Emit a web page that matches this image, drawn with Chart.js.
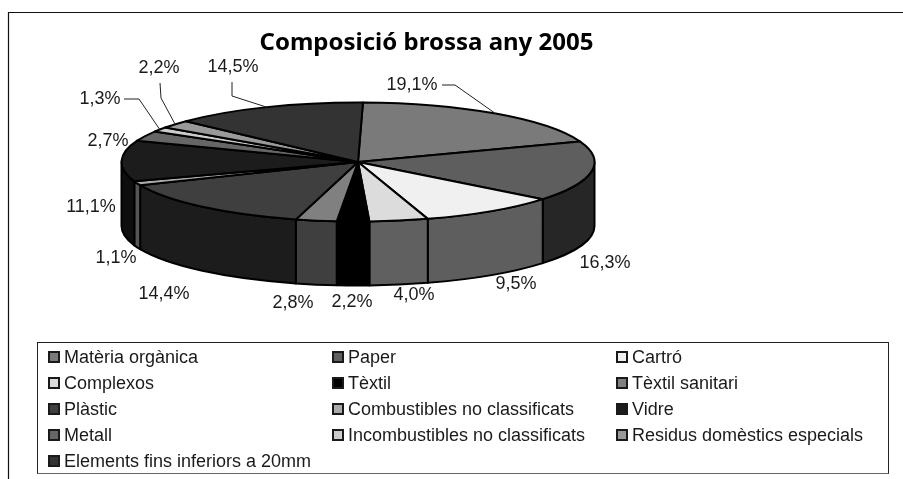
<!DOCTYPE html>
<html>
<head>
<meta charset="utf-8">
<title>Composició brossa any 2005</title>
<script src="https://cdn.jsdelivr.net/npm/chart.js@4"></script>
<style>
    html, body { margin: 0; padding: 0; background: #fff; overflow: hidden; }
    #wrap { position: relative; width: 903px; height: 479px; }
    #pieChart { position: absolute; left: 0; top: 0; }
    #legend {
        position: absolute; left: 37px; top: 342px; width: 852px; height: 132px;
        box-sizing: border-box; border: 1px solid #222; border-bottom-color: #666;
        display: grid; grid-template-columns: repeat(3, 284px); grid-auto-rows: 26px;
        padding: 1px 0 0 10px;
        font: 18px "Liberation Sans", Arial, sans-serif; color: #1a1a1a;
    }
    #legend div { display: flex; align-items: center; white-space: nowrap; }
    #legend i {
        display: block; width: 12px; height: 12px; margin-right: 4px;
        box-sizing: border-box; border: 2px solid #1a1a1a;
    }
</style>
</head>
<body>
<div id="wrap">
    <canvas id="pieChart" width="903" height="479"></canvas>
    <div id="legend"></div>
</div>
<script>
// Dades
const categories = ['Matèria orgànica', 'Paper', 'Cartró', 'Complexos', 'Tèxtil', 'Tèxtil sanitari',
    'Plàstic', 'Combustibles no classificats', 'Vidre', 'Metall', 'Incombustibles no classificats',
    'Residus domèstics especials', 'Elements fins inferiors a 20mm'];
const values = [19.1, 16.3, 9.5, 4.0, 2.2, 2.8, 14.4, 1.1, 11.1, 2.7, 1.3, 2.2, 14.5];

// Colors: cara superior i paret lateral
const topColors = ['#7a7a7a', '#5e5e5e', '#f0f0f0', '#dcdcdc', '#000000', '#808080', '#3f3f3f',
    '#aaaaaa', '#1c1c1c', '#666666', '#cccccc', '#999999', '#333333'];
const sideColors = ['#3d3d3d', '#262626', '#5e5e5e', '#606060', '#000000', '#3f3f3f', '#1c1c1c',
    '#555555', '#0e0e0e', '#333333', '#666666', '#4c4c4c', '#1a1a1a'];

// Posició del text de cada etiqueta i colze de la línia guia (si en té)
const labelPos = [[412, 85], [605, 263], [516, 284], [414, 295], [352, 302], [293, 303], [164, 294],
    [116, 258], [91, 207], [108, 141], [100, 99], [159, 68], [233, 67]];
const leaders = {
    0: [[442, 85], [455, 85]],
    10: [[124, 99], [139, 99]],
    11: [[160, 83], [161, 98]],
    12: [[232, 82], [232, 96]]
};

// Geometria de la "pastís" 3D
const pie = { cx: 358, cy: 162, rx: 236.5, ry: 59.5, depth: 64 };

// Els percentatges del gràfic sumen 101,2: cada punt val 3,6 graus i l'últim sector es talla
const totalPercent = values.reduce((a, b) => a + b, 0);

function fmt(v) {
    return v.toFixed(1).replace('.', ',') + '%';
}

const pie3d = {
    id: 'pie3d',
    beforeDraw(chart) {
        // marc exterior
        const ctx = chart.ctx;
        ctx.save();
        ctx.strokeStyle = '#111';
        ctx.lineWidth = 1.2;
        ctx.beginPath();
        ctx.moveTo(8.5, 479);
        ctx.lineTo(8.5, 12.5);
        ctx.lineTo(903, 12.5);
        ctx.stroke();
        ctx.restore();
    },
    beforeDatasetsDraw(chart) {
        const ctx = chart.ctx;
        const arcs = chart.getDatasetMeta(0).data;
        const limit = arcs[0].startAngle + Math.PI * 2;
        ctx.save();
        ctx.lineWidth = 2;
        ctx.strokeStyle = '#000';
        ctx.lineJoin = 'round';

        // parets (només la meitat de davant)
        arcs.forEach((arc, i) => {
            const a = Math.max(arc.startAngle, 0);
            const b = Math.min(arc.endAngle, Math.PI);
            if (b <= a) return;
            ctx.beginPath();
            ctx.ellipse(pie.cx, pie.cy, pie.rx, pie.ry, 0, a, b);
            ctx.ellipse(pie.cx, pie.cy + pie.depth, pie.rx, pie.ry, 0, b, a, true);
            ctx.closePath();
            ctx.fillStyle = sideColors[i];
            ctx.fill();
            ctx.stroke();
        });

        // cara superior
        arcs.forEach((arc, i) => {
            ctx.beginPath();
            ctx.moveTo(pie.cx, pie.cy);
            ctx.ellipse(pie.cx, pie.cy, pie.rx, pie.ry, 0, arc.startAngle, Math.min(arc.endAngle, limit));
            ctx.closePath();
            ctx.fillStyle = topColors[i];
            ctx.fill();
            ctx.stroke();
        });

        // línies guia, acaben al mig de l'arc
        ctx.lineWidth = 1;
        ctx.strokeStyle = '#222';
        Object.keys(leaders).forEach(k => {
            const arc = arcs[k];
            const mid = (arc.startAngle + Math.min(arc.endAngle, limit)) / 2;
            ctx.beginPath();
            leaders[k].forEach((p, n) => n ? ctx.lineTo(p[0], p[1]) : ctx.moveTo(p[0], p[1]));
            ctx.lineTo(pie.cx + pie.rx * Math.cos(mid), pie.cy + pie.ry * Math.sin(mid));
            ctx.stroke();
        });

        // etiquetes
        ctx.fillStyle = '#1a1a1a';
        ctx.font = '18px "Liberation Sans", Arial, sans-serif';
        ctx.textAlign = 'center';
        ctx.textBaseline = 'middle';
        values.forEach((v, i) => ctx.fillText(fmt(v), labelPos[i][0], labelPos[i][1]));
        ctx.restore();
        return false; // ja ho hem dibuixat tot
    }
};

const ctxPie = document.getElementById('pieChart').getContext('2d');

let chart = new Chart(ctxPie, {
    type: 'pie',
    data: {
        labels: categories,
        datasets: [{
            data: values,
            backgroundColor: topColors,
            borderColor: '#000'
        }]
    },
    options: {
        responsive: false,
        animation: false,
        rotation: 1.2,
        circumference: totalPercent * 3.6,
        layout: { padding: { right: 50 } },
        plugins: {
            legend: { display: false },
            tooltip: { enabled: false },
            title: {
                display: true,
                text: 'Composició brossa any 2005',
                color: '#000',
                font: { family: '"Noto Sans", "DejaVu Sans", sans-serif', size: 24, weight: 'bold' },
                padding: { top: 29, bottom: 10 }
            }
        }
    },
    plugins: [pie3d]
});

// Llegenda en tres columnes
const legendBox = document.getElementById('legend');
categories.forEach((name, i) => {
    const row = document.createElement('div');
    const box = document.createElement('i');
    box.style.background = topColors[i];
    row.appendChild(box);
    row.appendChild(document.createTextNode(name));
    legendBox.appendChild(row);
});
</script>
</body>
</html>
